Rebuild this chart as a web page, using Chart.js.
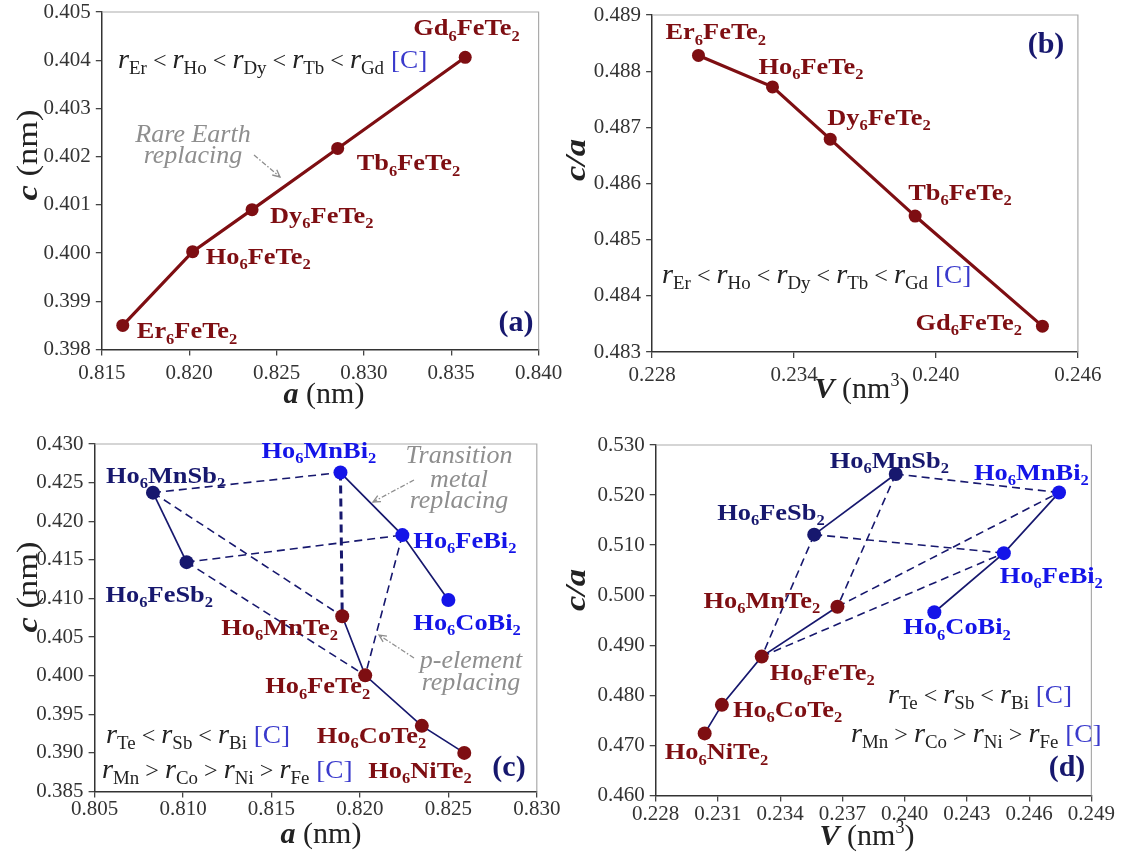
<!DOCTYPE html>
<html>
<head>
<meta charset="utf-8">
<script src="https://cdn.jsdelivr.net/npm/chart.js@4/dist/chart.umd.min.js"></script>
<style>
  html, body { margin: 0; padding: 0; background: #fff; }
  #wrap { position: relative; width: 1121px; height: 857px; overflow: hidden; background: #fff; }
  #wrap canvas { position: absolute; left: 0; top: 0; }
</style>
</head>
<body>
<div id="wrap">
  <canvas id="pa" width="1121" height="857"></canvas>
  <canvas id="pb" width="1121" height="857"></canvas>
  <canvas id="pc" width="1121" height="857"></canvas>
  <canvas id="pd" width="1121" height="857"></canvas>
</div>
<script>
// ---- R6FeTe2 rare-earth series ----
const reNames = ['Er6FeTe2', 'Ho6FeTe2', 'Dy6FeTe2', 'Tb6FeTe2', 'Gd6FeTe2'];
const reA  = [0.8162, 0.8202, 0.8236, 0.8285, 0.8358];      // a (nm)
const reC  = [0.3985, 0.40003, 0.4009, 0.40217, 0.40406];   // c (nm)
const reV  = [0.22996, 0.23309, 0.23553, 0.23912, 0.2445];  // V (nm^3)
const reCA = [0.48828, 0.48772, 0.48679, 0.48542, 0.48346]; // c/a

// ---- Ho6TX2 compounds ----
const teNames = ['Ho6MnTe2', 'Ho6FeTe2', 'Ho6CoTe2', 'Ho6NiTe2'];
const teA  = [0.8190, 0.8203, 0.8235, 0.8259];
const teC  = [0.4077, 0.40004, 0.3935, 0.3900];
const teV  = [0.23676, 0.23311, 0.23119, 0.23036];
const teCA = [0.4977, 0.48774, 0.4781, 0.4724];

const sbNames = ['Ho6MnSb2', 'Ho6FeSb2'];
const sbA  = [0.8083, 0.8102];
const sbC  = [0.4237, 0.4147];
const sbV  = [0.23957, 0.23564];
const sbCA = [0.5242, 0.5121];

const biNames = ['Ho6MnBi2', 'Ho6FeBi2', 'Ho6CoBi2'];
const biA  = [0.8189, 0.8224, 0.8250];
const biC  = [0.4263, 0.4182, 0.4098];
const biV  = [0.24744, 0.24478, 0.24143];
const biCA = [0.5205, 0.5084, 0.4966];

// dashed connections between related compounds
const linksC = [['Ho6MnSb2', 'Ho6MnBi2'], ['Ho6MnBi2', 'Ho6MnTe2'], ['Ho6MnSb2', 'Ho6MnTe2'],
                ['Ho6FeSb2', 'Ho6FeBi2'], ['Ho6FeSb2', 'Ho6FeTe2'], ['Ho6FeBi2', 'Ho6FeTe2']];
const linksD = [['Ho6MnSb2', 'Ho6MnBi2'], ['Ho6FeSb2', 'Ho6FeBi2'], ['Ho6MnSb2', 'Ho6MnTe2'],
                ['Ho6FeSb2', 'Ho6FeTe2'], ['Ho6MnTe2', 'Ho6MnBi2'], ['Ho6FeTe2', 'Ho6FeBi2']];

// ---- tick labels ----
const ticksAX = [0.815, 0.820, 0.825, 0.830, 0.835, 0.840];
const ticksAY = [0.398, 0.399, 0.400, 0.401, 0.402, 0.403, 0.404, 0.405];
const ticksBX = [0.228, 0.234, 0.240, 0.246];
const ticksBY = [0.483, 0.484, 0.485, 0.486, 0.487, 0.488, 0.489];
const ticksCX = [0.805, 0.810, 0.815, 0.820, 0.825, 0.830];
const ticksCY = [0.385, 0.390, 0.395, 0.400, 0.405, 0.410, 0.415, 0.420, 0.425, 0.430];
const ticksDX = [0.228, 0.231, 0.234, 0.237, 0.240, 0.243, 0.246, 0.249];
const ticksDY = [0.460, 0.470, 0.480, 0.490, 0.500, 0.510, 0.520, 0.530];

// ---- styling ----
const SERIF = "'Liberation Serif', 'Times New Roman', serif";
const MAROON = '#7e0e12', NAVY = '#17186e', BLUE = '#1414e8', INK = '#222222', NOTE = '#8e8e8e', CITE = '#3a3acc';
const W = 1121, H = 857, YAXIS_W = 70, XAXIS_H = 40;

const f = (size, style) => `${style ? style + ' ' : ''}${size}px ${SERIF}`;

function drawRich(ctx, segs, x, y, o = {}) {
  ctx.save();
  ctx.textAlign = 'left';
  ctx.textBaseline = o.baseline || 'alphabetic';
  let w = 0;
  for (const s of segs) { ctx.font = s.f; s.w = ctx.measureText(s.t).width; w += s.w; }
  ctx.translate(x, y);
  if (o.rot) ctx.rotate(o.rot);
  ctx.scale(o.sx || 1, 1);
  let cx = o.align === 'center' ? -w / 2 : o.align === 'right' ? -w : 0;
  for (const s of segs) {
    ctx.font = s.f; ctx.fillStyle = s.c;
    ctx.fillText(s.t, cx, s.dy || 0);
    cx += s.w;
  }
  ctx.restore();
}

// chemical formula: digits become subscripts
function formulaSegs(name, size, color) {
  return name.split(/(\d+)/).filter(Boolean).map(p => /^\d+$/.test(p)
    ? { t: p, f: f(Math.round(size * 0.64), 'bold'), dy: size * 0.22, c: color }
    : { t: p, f: f(size, 'bold'), c: color });
}

// ionic-radius ordering, e.g. r_Er < r_Ho < ...
function radiusSegs(elems, op) {
  const segs = [];
  elems.forEach((e, i) => {
    if (i) segs.push({ t: ` ${op} `, f: f(23), c: INK });
    segs.push({ t: 'r', f: f(27, 'italic'), c: INK });
    segs.push({ t: e, f: f(18), dy: 6, c: INK });
  });
  segs.push({ t: ' [C]', f: f(26), c: CITE });
  return segs;
}

const axisTitle = (sym, unit) => [{ t: sym, f: f(30, 'bold italic'), c: INK }, { t: unit, f: f(30), c: INK }];
const volTitle = () => [{ t: 'V', f: f(30, 'bold italic'), c: INK }, { t: ' (nm', f: f(30), c: INK },
                        { t: '3', f: f(18), dy: -12, c: INK }, { t: ')', f: f(30), c: INK }];
const panelTag = t => [{ t: t, f: f(30, 'bold'), c: NAVY }];
const noteLine = t => [{ t: t, f: f(26, 'italic'), c: NOTE }];

function drawArrow(ctx, a) {
  const [x1, y1, x2, y2] = a;
  ctx.save();
  ctx.strokeStyle = NOTE; ctx.lineWidth = 1.3;
  ctx.setLineDash([5, 2, 1.5, 2]);
  ctx.beginPath(); ctx.moveTo(x1, y1); ctx.lineTo(x2, y2); ctx.stroke();
  ctx.setLineDash([]);
  const ang = Math.atan2(y2 - y1, x2 - x1), L = 8;
  ctx.beginPath();
  ctx.moveTo(x2 - L * Math.cos(ang - 0.45), y2 - L * Math.sin(ang - 0.45));
  ctx.lineTo(x2, y2);
  ctx.lineTo(x2 - L * Math.cos(ang + 0.45), y2 - L * Math.sin(ang + 0.45));
  ctx.stroke();
  ctx.restore();
}

const decor = {
  id: 'decor',
  beforeDatasetsDraw(chart) {
    const { ctx, chartArea: a } = chart;
    ctx.save();
    ctx.strokeStyle = '#ababab'; ctx.lineWidth = 1.2;
    ctx.beginPath(); ctx.moveTo(a.left, a.top); ctx.lineTo(a.right, a.top); ctx.lineTo(a.right, a.bottom); ctx.stroke();
    ctx.restore();
  },
  afterDatasetsDraw(chart, args, o) {
    const ctx = chart.ctx, xs = chart.scales.x, ys = chart.scales.y;
    (o.labels || []).forEach(l => {
      const off = o.offsets[l.name];
      drawRich(ctx, formulaSegs(l.name, 24, l.color),
        xs.getPixelForValue(l.x) + off[0], ys.getPixelForValue(l.y) + off[1], { sx: 1.1 });
    });
    (o.texts || []).forEach(t => drawRich(ctx, t.segs, t.x, t.y, t));
    (o.arrows || []).forEach(a => drawArrow(ctx, a));
  }
};

const pts = (names, xs, ys) => names.map((n, i) => ({ name: n, x: xs[i], y: ys[i] }));

function axis(ticks, vertical, pad) {
  return {
    type: 'linear',
    min: ticks[0], max: ticks[ticks.length - 1],
    afterBuildTicks: s => { s.ticks = ticks.map(v => ({ value: v })); },
    afterFit: s => {
      if (vertical) s.width = YAXIS_W; else s.height = XAXIS_H;
      s.paddingLeft = s.paddingRight = s.paddingTop = s.paddingBottom = 0;
    },
    ticks: {
      autoSkip: false, maxRotation: 0, minRotation: 0, padding: pad,
      color: '#333', font: { family: SERIF, size: 21 },
      callback: v => Number(v).toFixed(3)
    },
    grid: { display: true, drawOnChartArea: false, drawTicks: true, tickLength: 6, color: '#444', lineWidth: 1.3 },
    border: { display: true, color: '#333', width: 1.5 }
  };
}

function makeChart(id, area, datasets, xt, yt, deco) {
  return new Chart(document.getElementById(id), {
    type: 'scatter',
    data: { datasets },
    options: {
      responsive: false, animation: false, devicePixelRatio: 1,
      layout: { padding: { left: area.l - YAXIS_W, top: area.t, right: W - area.r, bottom: H - area.b - XAXIS_H } },
      scales: { x: axis(xt, false, area.xpad), y: axis(yt, true, 5) },
      plugins: { legend: { display: false }, tooltip: { enabled: false }, decor: deco },
      elements: { line: { tension: 0 } }
    },
    plugins: [decor]
  });
}

function reSeries(xs, ys) {
  return [{
    data: pts(reNames, xs, ys), showLine: true,
    borderColor: MAROON, borderWidth: 3.2,
    pointRadius: 6.5, pointBackgroundColor: MAROON, pointBorderColor: MAROON, pointBorderWidth: 0
  }];
}

function hoSeries(te, sb, bi, links, heavy) {
  const all = [...te, ...sb, ...bi];
  const byName = Object.fromEntries(all.map(p => [p.name, p]));
  const line = (data, color) => ({
    data, showLine: true, borderColor: NAVY, borderWidth: 1.7, order: 1,
    pointRadius: 7, pointBackgroundColor: color, pointBorderColor: color, pointBorderWidth: 0
  });
  const dashed = links.map(([p, q]) => {
    const thick = heavy && heavy[0] === p && heavy[1] === q;
    return {
      data: [byName[p], byName[q]], showLine: true, order: 2,
      borderColor: NAVY, borderWidth: thick ? 3 : 1.6, borderDash: [8, 5],
      pointRadius: 0
    };
  });
  return [line(te, MAROON), line(sb, NAVY), line(bi, BLUE), ...dashed];
}

function labelList(groups) {
  return groups.flatMap(([p, color]) => p.map(q => ({ ...q, color })));
}

// ---------------- (a) c vs a ----------------
const aPts = pts(reNames, reA, reC);
makeChart('pa', { l: 101.8, t: 12, r: 538.6, b: 349.5, xpad: 5 }, reSeries(reA, reC), ticksAX, ticksAY, {
  labels: labelList([[aPts, MAROON]]),
  offsets: { Er6FeTe2: [14, 13], Ho6FeTe2: [13, 12], Dy6FeTe2: [18, 13], Tb6FeTe2: [19, 22], Gd6FeTe2: [-52, -22] },
  texts: [
    { segs: radiusSegs(['Er', 'Ho', 'Dy', 'Tb', 'Gd'], '<'), x: 118, y: 68, sx: 1.05 },
    { segs: panelTag('(a)'), x: 516, y: 323, align: 'center', baseline: 'middle' },
    { segs: noteLine('Rare Earth'), x: 193, y: 142, align: 'center' },
    { segs: noteLine('replacing'), x: 193, y: 163, align: 'center' },
    { segs: axisTitle('a', ' (nm)'), x: 324, y: 403, align: 'center' },
    { segs: axisTitle('c', ' (nm)'), x: 29, y: 155, align: 'center', baseline: 'middle', rot: -Math.PI / 2, sx: 1.15 }
  ],
  arrows: [[254, 155, 280, 177]]
});

// ---------------- (b) c/a vs V ----------------
const bPts = pts(reNames, reV, reCA);
makeChart('pb', { l: 652.1, t: 15, r: 1077.9, b: 352, xpad: 5 }, reSeries(reV, reCA), ticksBX, ticksBY, {
  labels: labelList([[bPts, MAROON]]),
  offsets: { Er6FeTe2: [-33, -16], Ho6FeTe2: [-14, -13], Dy6FeTe2: [-3, -14], Tb6FeTe2: [-7, -16], Gd6FeTe2: [-127, 4] },
  texts: [
    { segs: radiusSegs(['Er', 'Ho', 'Dy', 'Tb', 'Gd'], '<'), x: 662, y: 283, sx: 1.05 },
    { segs: panelTag('(b)'), x: 1046, y: 45, align: 'center', baseline: 'middle' },
    { segs: volTitle(), x: 862, y: 398, align: 'center' },
    { segs: [{ t: 'c/a', f: f(30, 'bold italic'), c: INK }], x: 577, y: 160, align: 'center', baseline: 'middle', rot: -Math.PI / 2, sx: 1.15 }
  ]
});

// ---------------- (c) c vs a ----------------
const cTe = pts(teNames, teA, teC), cSb = pts(sbNames, sbA, sbC), cBi = pts(biNames, biA, biC);
makeChart('pc', { l: 94.6, t: 444, r: 536.8, b: 791.5, xpad: -1 },
  hoSeries(cTe, cSb, cBi, linksC, ['Ho6MnBi2', 'Ho6MnTe2']), ticksCX, ticksCY, {
  labels: labelList([[cTe, MAROON], [cSb, NAVY], [cBi, BLUE]]),
  offsets: { Ho6MnSb2: [-47, -10], Ho6FeSb2: [-81, 40], Ho6MnBi2: [-79, -15], Ho6FeBi2: [11, 13], Ho6CoBi2: [-35, 30],
             Ho6MnTe2: [-121, 19], Ho6FeTe2: [-100, 18], Ho6CoTe2: [-105, 17], Ho6NiTe2: [-96, 25] },
  texts: [
    { segs: radiusSegs(['Te', 'Sb', 'Bi'], '<'), x: 106, y: 743, sx: 1.05 },
    { segs: radiusSegs(['Mn', 'Co', 'Ni', 'Fe'], '>'), x: 102, y: 778, sx: 1.05 },
    { segs: panelTag('(c)'), x: 509, y: 768, align: 'center', baseline: 'middle' },
    { segs: noteLine('Transition'), x: 459, y: 463, align: 'center' },
    { segs: noteLine('metal'), x: 459, y: 487, align: 'center' },
    { segs: noteLine('replacing'), x: 459, y: 508, align: 'center' },
    { segs: noteLine('p-element'), x: 471, y: 668, align: 'center' },
    { segs: noteLine('replacing'), x: 471, y: 690, align: 'center' },
    { segs: axisTitle('a', ' (nm)'), x: 321, y: 843, align: 'center' },
    { segs: axisTitle('c', ' (nm)'), x: 29, y: 587, align: 'center', baseline: 'middle', rot: -Math.PI / 2, sx: 1.15 }
  ],
  arrows: [[414, 480, 373, 502], [414, 658, 379, 635]]
});

// ---------------- (d) c/a vs V ----------------
const dTe = pts(teNames, teV, teCA), dSb = pts(sbNames, sbV, sbCA), dBi = pts(biNames, biV, biCA);
makeChart('pd', { l: 655.7, t: 445, r: 1091.4, b: 795.5, xpad: 0 },
  hoSeries(dTe, dSb, dBi, linksD, null), ticksDX, ticksDY, {
  labels: labelList([[dTe, MAROON], [dSb, NAVY], [dBi, BLUE]]),
  offsets: { Ho6MnSb2: [-66, -6], Ho6FeSb2: [-97, -15], Ho6MnBi2: [-85, -13], Ho6FeBi2: [-4, 30], Ho6CoBi2: [-31, 22],
             Ho6MnTe2: [-134, 1], Ho6FeTe2: [8, 23], Ho6CoTe2: [11, 12], Ho6NiTe2: [-40, 26] },
  texts: [
    { segs: radiusSegs(['Te', 'Sb', 'Bi'], '<'), x: 888, y: 703, sx: 1.05 },
    { segs: radiusSegs(['Mn', 'Co', 'Ni', 'Fe'], '>'), x: 851, y: 742, sx: 1.05 },
    { segs: panelTag('(d)'), x: 1067, y: 768, align: 'center', baseline: 'middle' },
    { segs: volTitle(), x: 867, y: 845, align: 'center' },
    { segs: [{ t: 'c/a', f: f(30, 'bold italic'), c: INK }], x: 577, y: 590, align: 'center', baseline: 'middle', rot: -Math.PI / 2, sx: 1.15 }
  ]
});
</script>
</body>
</html>
